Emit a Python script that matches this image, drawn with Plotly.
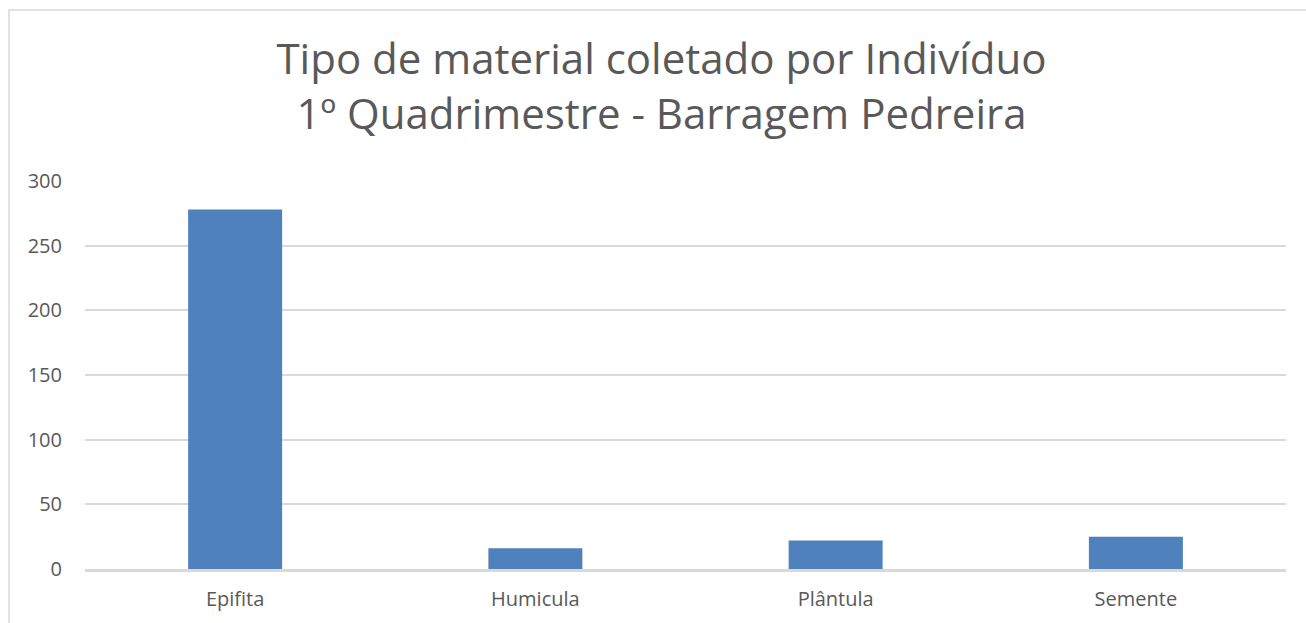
import plotly.graph_objects as go

categories = ["Epifita", "Humicula", "Plântula", "Semente"]
values = [278, 16, 22, 25]
y_ticks = [0, 50, 100, 150, 200, 250, 300]

W, H = 1306, 623
L, R, T, B = 85, 20, 181, 54
pw, ph = W - L - R, H - T - B

fig = go.Figure(go.Bar(x=categories, y=values, marker=dict(color="#4f81bd", line=dict(width=0)), width=0.313))

fig.update_layout(
    width=W, height=H,
    margin=dict(l=L, r=R, t=T, b=B),
    paper_bgcolor="white", plot_bgcolor="white",
    font=dict(family="Open Sans", color="#595959"),
    title=dict(text="Tipo de material coletado por Indivíduo<br>1º Quadrimestre - Barragem Pedreira",
               x=661.5 / W, xanchor="center", xref="container", yref="container", y=1 - 74 / H, yanchor="top",
               font=dict(size=42, color="#595959", family="Open Sans")),
    xaxis=dict(showgrid=False, tickfont=dict(size=20), ticks="", showline=True, linecolor="#d9d9d9",
               linewidth=2.5, ticklabelstandoff=10),
    yaxis=dict(range=[0, 300], tickvals=y_ticks, showgrid=True, gridcolor="#d9d9d9", gridwidth=1.5,
               tickfont=dict(size=20), ticks="", zeroline=False, showline=False, ticklabelstandoff=22),
    showlegend=False,
    shapes=[dict(type="rect", xref="paper", yref="paper",
                 x0=(9 - L) / pw, x1=(W + 5 - L) / pw,
                 y0=-(B + 5) / ph, y1=(H - 10 - B) / ph,
                 line=dict(color="#d9d9d9", width=1.5), fillcolor="rgba(0,0,0,0)", layer="below")],
)

fig.write_html("out.html", config={"displayModeBar": False},
               post_script="document.body.style.margin='0px';")
